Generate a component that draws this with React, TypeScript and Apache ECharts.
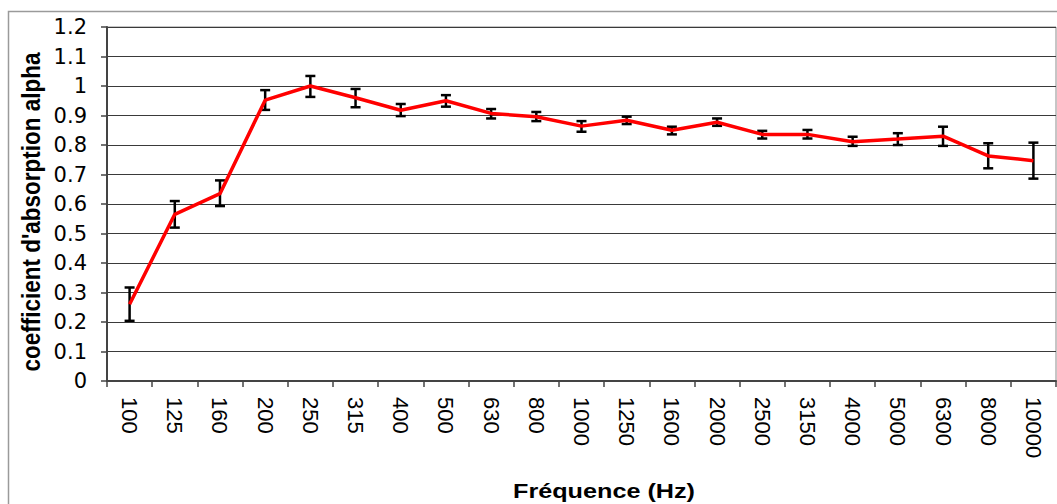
import React, { useEffect, useRef } from "react";
import * as echarts from "echarts";

const categories = ["100", "125", "160", "200", "250", "315", "400", "500", "630", "800", "1000", "1250", "1600", "2000", "2500", "3150", "4000", "5000", "6300", "8000", "10000"];
const alpha = [0.26, 0.565, 0.635, 0.952, 1.0, 0.96, 0.918, 0.95, 0.907, 0.896, 0.864, 0.884, 0.85, 0.877, 0.836, 0.836, 0.811, 0.82, 0.83, 0.763, 0.747];
const upper = [0.317, 0.61, 0.68, 0.986, 1.034, 0.99, 0.939, 0.969, 0.922, 0.912, 0.881, 0.896, 0.862, 0.89, 0.848, 0.851, 0.828, 0.84, 0.862, 0.806, 0.808];
const lower = [0.204, 0.52, 0.593, 0.919, 0.963, 0.928, 0.898, 0.93, 0.89, 0.881, 0.845, 0.871, 0.836, 0.865, 0.822, 0.822, 0.797, 0.8, 0.797, 0.721, 0.686];
const yTitle = "coefficient d'absorption alpha";
const xTitle = "Fréquence (Hz)";

const FONT = "'Liberation Sans', Arial, sans-serif";
const WIDE = "'DejaVu Sans', 'Liberation Sans', sans-serif";

export default function App() {
  const ref = useRef<HTMLDivElement>(null);
  useEffect(() => {
    if (!ref.current) return;
    const chart = echarts.init(ref.current, null, { renderer: "svg" });
    const errData = categories.map((c, i) => [i, lower[i], upper[i]]);
    chart.setOption({
      animation: false,
      backgroundColor: "#fff",
      textStyle: { fontFamily: FONT },
      grid: { left: 107, top: 27, right: 1, bottom: 123, show: true, borderColor: "#8c8c8c", borderWidth: 1, backgroundColor: "transparent" },
      graphic: [
        { type: "rect", shape: { x: 8.5, y: 11.5, width: 1100, height: 600 }, style: { fill: "none", stroke: "#9a9a9a", lineWidth: 1.5 }, z: -1 },
        { type: "text", x: 604, y: 491, scaleX: 1.2, style: { text: xTitle, font: `bold 21px ${FONT}`, fill: "#000", textAlign: "center", textVerticalAlign: "middle" } },
        { type: "text", x: 31, y: 212, rotation: Math.PI / 2, scaleY: 1.12, style: { text: yTitle, font: `bold 22.5px ${FONT}`, fill: "#000", textAlign: "center", textVerticalAlign: "middle" } },
      ],
      xAxis: {
        type: "category",
        data: categories,
        boundaryGap: true,
        axisLine: { lineStyle: { color: "#444", width: 2 } },
        axisTick: { show: true, length: 6, inside: false, alignWithLabel: false, lineStyle: { color: "#444", width: 1.5 } },
        axisLabel: { rotate: -90, margin: 16, fontSize: 22, color: "#000", fontFamily: FONT, interval: 0 },
        splitLine: { show: false },
      },
      yAxis: {
        type: "value",
        min: 0,
        max: 1.2,
        interval: 0.1,
        axisLine: { show: true, lineStyle: { color: "#444", width: 2 } },
        axisTick: { show: true, length: 6, lineStyle: { color: "#444", width: 1.5 } },
        axisLabel: { fontSize: 21, color: "#000", margin: 20, fontFamily: WIDE, formatter: (v: number) => String(Math.round(v * 10) / 10) },
        splitLine: { show: true, lineStyle: { color: "#3a3a3a", width: 1 } },
      },
      series: [
        {
          type: "custom",
          z: 2,
          data: errData,
          renderItem: (params: any, api: any) => {
            const x = api.value(0);
            const lo = api.coord([x, api.value(1)]);
            const hi = api.coord([x, api.value(2)]);
            const hw = 5;
            const style = { stroke: "#000", lineWidth: 2.5 };
            return {
              type: "group",
              children: [
                { type: "line", shape: { x1: hi[0], y1: hi[1], x2: lo[0], y2: lo[1] }, style },
                { type: "line", shape: { x1: hi[0] - hw, y1: hi[1], x2: hi[0] + hw, y2: hi[1] }, style },
                { type: "line", shape: { x1: lo[0] - hw, y1: lo[1], x2: lo[0] + hw, y2: lo[1] }, style },
              ],
            };
          },
        },
        {
          type: "line",
          z: 3,
          data: alpha,
          showSymbol: false,
          symbol: "none",
          lineStyle: { color: "#ff0000", width: 3.5 },
        },
      ],
    });
    return () => chart.dispose();
  }, []);
  return <div ref={ref} style={{ position: "fixed", left: 0, top: 0, width: 1057, height: 504 }} />;
}
